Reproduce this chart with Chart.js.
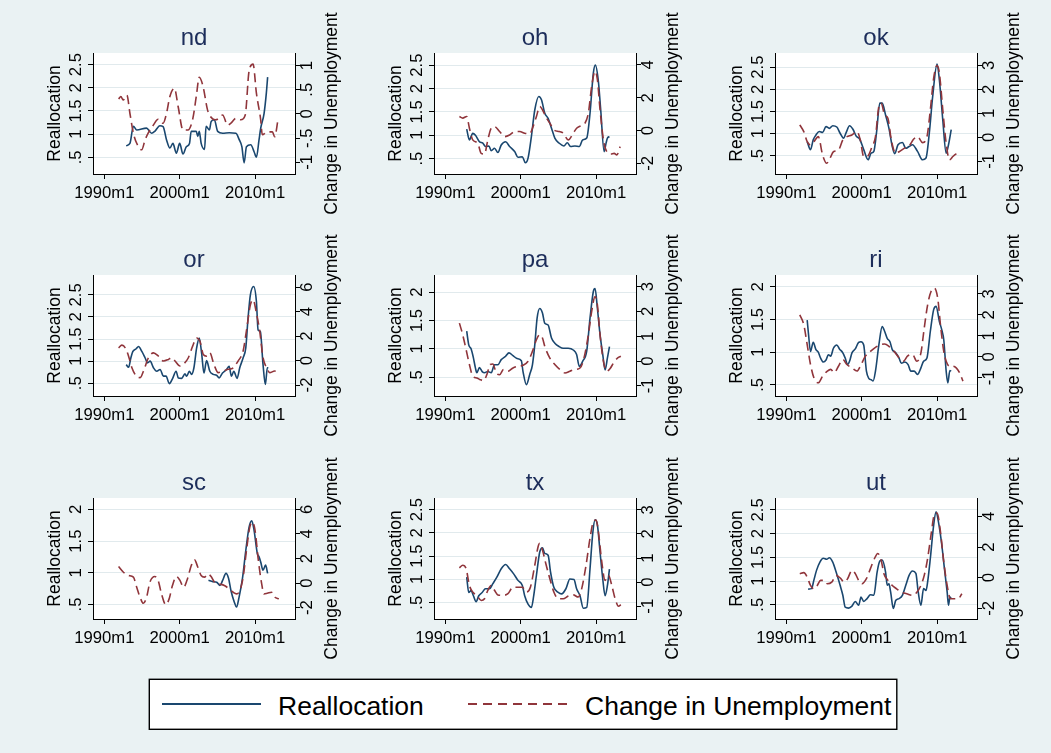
<!DOCTYPE html>
<html>
<head>
<meta charset="utf-8">
<script src="https://cdn.jsdelivr.net/npm/chart.js@4.4.1/dist/chart.umd.min.js"></script>
<style>
  html, body { margin: 0; padding: 0; background: #EAF2F3; width: 1051px; height: 753px; overflow: hidden; }
  canvas.panel { position: absolute; }
  #legend { position: absolute; left: 147px; top: 677px; }
</style>
</head>
<body>
<svg id="legend" width="753" height="56" xmlns="http://www.w3.org/2000/svg">
  <rect x="2.3" y="2.3" width="747.5" height="50" fill="#FFFFFF" stroke="#000000" stroke-width="1.4"/>
  <line x1="15" y1="27" x2="114" y2="27" stroke="#1A476F" stroke-width="2"/>
  <text x="131" y="38" font-family="Liberation Sans, Arial, Helvetica, sans-serif" font-size="26.5" fill="#000">Reallocation</text>
  <line x1="321" y1="27" x2="421" y2="27" stroke="#90353B" stroke-width="2" stroke-dasharray="9 6"/>
  <text x="438" y="38" font-family="Liberation Sans, Arial, Helvetica, sans-serif" font-size="26.5" fill="#000">Change in Unemployment</text>
</svg>
<script>
// Monthly series by state, as [year, value] pairs (year as a decimal date).
const yearTicks = [1990, 2000, 2010];

const ndReallocation = [[1992.9,0.75],[1993.4,0.80],[1993.86,1.17],[1994.3,1.09],[1995.6,1.13],[1996.27,1.02],[1996.7,1.06],[1997.37,1.18],[1997.8,1.16],[1998.25,0.88],[1998.7,0.70],[1999.1,0.80],[1999.56,0.59],[2000.0,0.80],[2000.44,0.57],[2000.88,0.73],[2001.3,0.80],[2001.53,1.06],[2002.2,1.06],[2002.4,0.95],[2002.6,1.06],[2002.85,0.80],[2003.3,0.67],[2003.5,1.17],[2003.95,1.09],[2004.17,1.27],[2004.6,1.31],[2005.04,1.06],[2005.7,1.02],[2006.58,1.03],[2007.46,1.02],[2007.9,0.88],[2008.25,0.73],[2008.55,0.38],[2008.86,0.73],[2009.43,0.77],[2009.87,0.62],[2010.18,0.50],[2010.53,0.88],[2010.75,1.13],[2011.2,1.45],[2011.5,1.89],[2011.67,2.23]];
const ndUnemployment = [[1991.9,0.31],[1992.2,0.36],[1992.5,0.29],[1993.0,0.39],[1993.4,0.01],[1993.86,-0.40],[1994.4,-0.64],[1994.96,-0.74],[1995.4,-0.54],[1995.8,-0.40],[1996.5,-0.23],[1997.15,-0.11],[1997.8,-0.19],[1998.25,0.01],[1998.7,0.36],[1999.3,0.53],[1999.8,0.15],[2000.44,-0.33],[2001.1,-0.33],[2001.75,-0.09],[2002.2,0.36],[2002.6,0.76],[2003.1,0.57],[2003.7,0.08],[2004.3,-0.09],[2004.8,-0.12],[2005.7,-0.02],[2006.36,-0.23],[2006.8,-0.19],[2007.46,-0.09],[2008.1,-0.12],[2008.7,-0.02],[2009.2,0.88],[2009.74,1.03],[2010.18,0.43],[2010.75,-0.12],[2010.96,-0.43],[2011.6,-0.37],[2012.3,-0.37],[2012.6,-0.47],[2013.07,-0.09]];

const ohReallocation = [[1992.84,1.13],[1993.2,0.90],[1993.64,1.04],[1994.0,1.00],[1994.53,0.86],[1994.98,0.83],[1995.33,0.76],[1995.78,0.77],[1996.09,0.67],[1996.53,0.72],[1996.98,0.63],[1997.42,0.79],[1998.0,0.86],[1998.53,0.76],[1999.2,0.65],[1999.64,0.53],[2000.22,0.54],[2000.62,0.41],[2000.98,0.51],[2001.42,0.97],[2001.87,1.54],[2002.4,1.83],[2002.76,1.76],[2003.2,1.47],[2003.64,1.36],[2004.09,1.15],[2004.53,0.94],[2005.11,0.83],[2005.73,0.77],[2006.18,0.84],[2006.62,0.76],[2007.2,0.77],[2007.78,0.76],[2008.22,0.90],[2008.76,0.94],[2009.2,1.47],[2009.64,2.33],[2009.91,2.50],[2010.31,2.15],[2010.62,1.54],[2011.07,0.65],[2011.33,0.83],[2011.51,0.94],[2011.78,0.97]];
const ohUnemployment = [[1991.87,0.86],[1992.31,0.76],[1992.84,0.86],[1993.2,0.14],[1993.64,-0.57],[1994.31,-0.78],[1994.76,-1.39],[1995.2,-1.43],[1995.64,-0.57],[1996.09,0.14],[1996.53,0.24],[1997.2,-0.06],[1997.87,-0.37],[1998.53,-0.27],[1999.2,-0.06],[1999.87,-0.06],[2000.53,-0.16],[2001.2,-0.20],[2001.64,0.24],[2002.09,0.86],[2002.53,1.47],[2002.89,1.27],[2003.42,0.76],[2003.87,0.45],[2004.4,0.04],[2005.11,-0.06],[2005.64,-0.16],[2006.31,-0.57],[2006.98,-0.16],[2007.42,0.14],[2007.96,0.29],[2008.53,0.45],[2008.98,1.06],[2009.42,2.69],[2009.87,3.61],[2010.18,3.10],[2010.53,1.27],[2010.98,-0.57],[2011.42,-1.29],[2011.96,-1.43],[2012.4,-1.39],[2012.76,-1.49],[2013.2,-0.98]];

const okReallocation = [[1992.77,0.82],[1993.21,0.64],[1993.57,0.86],[1993.93,0.97],[1994.38,1.05],[1994.82,1.03],[1995.27,1.16],[1995.71,1.12],[1996.16,1.18],[1996.7,1.15],[1997.14,1.01],[1997.59,0.90],[1997.95,1.03],[1998.39,1.18],[1998.84,1.10],[1999.29,0.94],[1999.73,0.88],[2000.27,0.64],[2000.85,0.41],[2001.25,0.56],[2001.61,0.60],[2001.96,1.01],[2002.41,1.69],[2002.72,1.69],[2003.17,1.42],[2003.62,1.12],[2004.06,0.71],[2004.38,0.55],[2004.82,0.75],[2005.4,0.80],[2005.85,0.67],[2006.29,0.71],[2006.74,0.75],[2007.41,0.60],[2008.08,0.41],[2008.53,0.45],[2008.97,1.01],[2009.42,1.84],[2010.0,2.57],[2010.31,2.21],[2010.76,1.31],[2011.21,0.56],[2011.52,0.75],[2011.88,1.09]];
const okUnemployment = [[1991.79,0.52],[1992.32,0.24],[1992.77,-0.18],[1993.21,-0.32],[1993.66,-0.18],[1994.24,0.03],[1994.82,-0.74],[1995.36,-1.08],[1995.8,-0.87],[1996.25,-0.60],[1996.92,-0.53],[1997.5,-0.11],[1998.04,0.03],[1998.7,0.10],[1999.38,0.24],[1999.82,-0.11],[2000.27,-0.80],[2000.71,-0.80],[2001.38,-0.39],[2001.83,0.03],[2002.28,1.29],[2002.59,1.43],[2003.04,0.94],[2003.48,0.80],[2003.93,-0.11],[2004.51,-0.67],[2004.96,-0.60],[2005.63,-0.46],[2006.29,-0.36],[2006.88,-0.08],[2007.41,0.03],[2008.08,-0.22],[2008.66,0.03],[2009.11,1.15],[2009.55,2.47],[2010.0,3.00],[2010.31,2.68],[2010.76,1.15],[2011.21,-0.25],[2011.65,-0.94],[2012.1,-0.80],[2012.54,-0.69],[2013.13,-0.60]];

const orReallocation = [[1992.91,0.92],[1993.22,0.86],[1993.52,1.07],[1993.79,1.22],[1994.23,1.28],[1994.54,1.33],[1994.98,1.22],[1995.42,1.07],[1995.73,0.96],[1996.08,1.00],[1996.52,0.85],[1996.96,0.77],[1997.4,0.81],[1997.84,0.66],[1998.19,0.66],[1998.63,0.49],[1999.07,0.61],[1999.52,0.77],[1999.82,0.62],[2000.26,0.61],[2000.7,0.71],[2000.93,0.66],[2001.28,0.77],[2001.59,0.70],[2001.89,0.85],[2002.25,1.30],[2002.6,1.52],[2002.91,1.18],[2003.22,0.73],[2003.57,1.01],[2004.0,0.77],[2004.45,0.70],[2004.89,0.68],[2005.24,0.62],[2005.68,0.73],[2006.21,0.81],[2006.56,0.88],[2006.87,0.66],[2007.18,0.77],[2007.62,0.61],[2007.97,0.85],[2008.41,1.07],[2008.77,1.30],[2009.07,1.97],[2009.38,2.50],[2009.82,2.69],[2010.18,2.35],[2010.4,1.71],[2010.7,1.67],[2011.06,0.92],[2011.37,0.47],[2011.63,0.85],[2011.76,0.85]];
const orUnemployment = [[1991.89,1.04],[1992.33,1.26],[1992.78,1.04],[1993.22,0.36],[1993.66,-0.59],[1994.23,-1.26],[1994.76,-1.40],[1995.2,-0.86],[1995.86,0.23],[1996.52,0.63],[1997.18,0.36],[1997.84,-0.04],[1998.5,0.09],[1998.94,0.23],[1999.38,-0.04],[2000.04,-0.45],[2000.48,-0.31],[2001.15,0.23],[2001.72,1.18],[2002.25,1.85],[2002.69,1.58],[2003.13,0.50],[2003.57,0.36],[2004.0,0.63],[2004.54,-0.31],[2005.11,-0.99],[2005.77,-0.86],[2006.43,-0.72],[2007.09,-0.59],[2007.75,-0.04],[2008.41,0.77],[2008.85,2.40],[2009.38,4.56],[2009.74,4.97],[2010.18,3.89],[2010.62,2.40],[2011.06,0.23],[2011.59,-0.64],[2011.94,-0.99],[2012.6,-0.86],[2013.4,-0.88]];

const paReallocation = [[1992.84,1.31],[1993.11,1.07],[1993.42,1.00],[1993.73,0.84],[1994.0,0.66],[1994.18,0.58],[1994.53,0.67],[1994.89,0.60],[1995.2,0.58],[1995.64,0.60],[1996.09,0.58],[1996.53,0.72],[1996.98,0.72],[1997.42,0.81],[1998.0,0.87],[1998.44,0.93],[1998.98,0.88],[1999.51,0.83],[2000.09,0.79],[2000.31,0.60],[2000.76,0.37],[2001.2,0.55],[2001.56,0.72],[2001.87,1.07],[2002.18,1.54],[2002.53,1.71],[2002.89,1.63],[2003.2,1.45],[2003.64,1.42],[2004.09,1.19],[2004.53,1.10],[2005.11,1.04],[2005.64,1.01],[2006.31,1.01],[2006.98,0.98],[2007.42,0.90],[2007.78,0.69],[2008.22,0.78],[2008.76,0.96],[2009.2,1.54],[2009.64,2.01],[2009.87,2.06],[2010.18,1.71],[2010.53,1.25],[2010.89,0.90],[2011.2,0.63],[2011.51,0.84],[2011.78,1.04]];
const paUnemployment = [[1991.87,1.53],[1992.31,1.06],[1992.76,0.46],[1993.2,-0.14],[1993.64,-0.61],[1994.18,-0.68],[1994.62,-0.75],[1995.07,-0.79],[1995.51,-0.55],[1995.96,-0.14],[1996.31,-0.12],[1996.76,-0.48],[1997.2,-0.55],[1997.73,-0.34],[1998.31,-0.41],[1998.98,-0.28],[1999.64,-0.21],[2000.31,-0.17],[2000.98,-0.01],[2001.56,0.39],[2002.09,0.86],[2002.53,1.06],[2002.89,0.93],[2003.2,0.59],[2003.87,0.12],[2004.53,-0.14],[2005.2,-0.34],[2005.87,-0.48],[2006.53,-0.41],[2007.2,-0.34],[2007.87,-0.28],[2008.4,0.12],[2008.98,1.06],[2009.42,2.00],[2009.87,2.60],[2010.18,2.26],[2010.53,1.06],[2010.98,-0.01],[2011.42,-0.41],[2011.87,-0.30],[2012.31,-0.08],[2012.84,0.12],[2013.29,0.19]];

const riReallocation = [[1992.77,1.49],[1992.95,1.27],[1993.21,1.01],[1993.57,1.15],[1993.93,1.04],[1994.24,1.00],[1994.55,0.91],[1994.91,0.85],[1995.27,0.88],[1995.58,0.96],[1995.89,0.94],[1996.25,1.06],[1996.7,1.11],[1997.05,1.05],[1997.5,0.99],[1997.81,0.91],[1998.13,0.81],[1998.39,0.86],[1998.71,0.99],[1999.15,1.05],[1999.6,1.15],[1999.91,1.16],[2000.27,1.11],[2000.63,0.71],[2000.94,0.60],[2001.25,0.58],[2001.52,0.56],[2001.83,0.71],[2002.28,1.11],[2002.72,1.39],[2003.04,1.32],[2003.39,1.21],[2003.75,1.16],[2004.06,1.04],[2004.51,0.99],[2004.96,0.91],[2005.27,0.83],[2005.71,0.85],[2006.16,0.81],[2006.52,0.71],[2006.96,0.71],[2007.41,0.66],[2007.86,0.76],[2008.21,0.86],[2008.66,0.91],[2009.11,1.32],[2009.55,1.65],[2009.87,1.70],[2010.31,1.47],[2010.63,1.34],[2010.89,1.19],[2011.21,0.71],[2011.43,0.53],[2011.7,0.72],[2011.88,0.71]];
const riUnemployment = [[1991.79,2.00],[1992.32,1.53],[1992.77,0.58],[1993.21,-0.37],[1993.66,-1.00],[1994.24,-1.24],[1994.82,-0.92],[1995.45,-0.68],[1995.89,-0.60],[1996.34,-0.76],[1996.92,-0.45],[1997.5,-0.13],[1998.04,-0.37],[1998.71,-0.53],[1999.38,-0.68],[1999.82,-0.45],[2000.49,0.03],[2001.16,0.26],[2001.83,0.45],[2002.5,0.58],[2003.04,0.61],[2003.62,0.50],[2004.29,0.26],[2004.96,-0.05],[2005.54,-0.21],[2006.07,0.03],[2006.74,0.11],[2007.32,-0.21],[2007.86,0.19],[2008.3,1.37],[2008.75,2.48],[2009.2,3.11],[2009.64,3.27],[2010.09,2.79],[2010.45,1.53],[2010.89,0.26],[2011.21,-0.21],[2011.65,-0.45],[2012.1,-0.45],[2012.54,-0.53],[2012.99,-0.76],[2013.44,-1.16]];

const scReallocation = [[2003.82,0.88],[2004.39,0.86],[2004.91,0.85],[2005.35,0.80],[2005.7,0.88],[2006.14,0.99],[2006.49,0.91],[2006.8,0.72],[2007.24,0.54],[2007.54,0.46],[2007.89,0.62],[2008.33,0.91],[2008.77,1.35],[2009.21,1.72],[2009.56,1.82],[2009.87,1.67],[2010.31,1.30],[2010.53,1.25],[2010.75,1.17],[2011.05,1.04],[2011.4,1.12],[2011.67,0.99]];
const scUnemployment = [[1991.89,1.35],[1992.54,0.88],[1993.2,0.61],[1993.86,0.48],[1994.3,-0.34],[1994.74,-1.16],[1995.18,-1.65],[1995.61,-1.16],[1996.05,0.07],[1996.71,0.53],[1997.15,0.20],[1997.59,-0.88],[1998.16,-1.76],[1998.6,-1.29],[1999.04,-0.20],[1999.56,0.53],[2000.0,0.26],[2000.53,-0.34],[2000.96,0.20],[2001.54,1.43],[2001.97,1.89],[2002.41,1.29],[2002.85,0.61],[2003.29,0.48],[2003.73,0.75],[2004.17,0.53],[2004.61,0.07],[2005.26,-0.07],[2005.92,-0.20],[2006.58,-0.48],[2007.1,-0.75],[2007.54,-0.88],[2007.98,-0.61],[2008.42,0.48],[2008.86,2.65],[2009.3,4.56],[2009.65,4.97],[2010.0,4.29],[2010.44,1.84],[2010.88,-0.07],[2011.18,-0.88],[2011.62,-0.83],[2012.19,-0.75],[2012.63,-1.16],[2013.16,-1.29]];

const txReallocation = [[1992.84,1.05],[1993.11,0.72],[1993.42,0.76],[1993.73,0.65],[1994.09,0.52],[1994.44,0.65],[1994.89,0.72],[1995.33,0.80],[1995.87,0.80],[1996.31,0.91],[1996.84,1.05],[1997.42,1.23],[1998.0,1.32],[1998.53,1.23],[1999.07,1.12],[1999.64,0.98],[2000.22,0.87],[2000.53,0.65],[2000.98,0.47],[2001.42,0.40],[2001.73,0.65],[2002.09,1.09],[2002.53,1.59],[2002.89,1.68],[2003.2,1.56],[2003.64,1.52],[2003.96,1.16],[2004.4,0.83],[2004.98,0.72],[2005.42,0.69],[2006.0,0.80],[2006.53,1.01],[2007.07,1.00],[2007.42,0.80],[2007.87,0.65],[2008.31,0.38],[2008.76,0.40],[2009.2,1.23],[2009.56,1.99],[2009.87,2.28],[2010.18,2.17],[2010.53,1.59],[2010.89,1.01],[2011.2,0.65],[2011.51,0.87],[2011.78,1.22]];
const txUnemployment = [[1991.87,0.59],[1992.31,0.70],[1992.76,0.56],[1993.2,-0.14],[1993.64,-0.41],[1994.18,-0.55],[1994.76,-0.76],[1995.2,-0.69],[1995.64,-0.34],[1996.09,-0.14],[1996.53,-0.34],[1996.98,-0.53],[1997.64,-0.55],[1998.31,-0.48],[1998.98,-0.21],[1999.64,-0.21],[2000.22,-0.21],[2000.76,-0.41],[2001.29,-0.21],[2001.87,0.70],[2002.31,1.47],[2002.53,1.61],[2002.89,1.33],[2003.33,0.77],[2003.87,0.14],[2004.4,-0.41],[2004.98,-0.69],[2005.64,-0.69],[2006.31,-0.58],[2006.98,-0.53],[2007.64,-0.62],[2008.09,-0.28],[2008.67,0.70],[2009.2,1.82],[2009.64,2.51],[2010.0,2.58],[2010.31,2.09],[2010.76,0.84],[2011.2,0.07],[2011.64,0.28],[2012.09,-0.14],[2012.53,-0.69],[2012.98,-1.00],[2013.29,-0.94]];

const utReallocation = [[1992.9,0.83],[1993.35,0.84],[1993.66,1.02],[1994.02,1.23],[1994.46,1.40],[1994.91,1.48],[1995.36,1.46],[1995.71,1.49],[1996.16,1.40],[1996.61,1.19],[1997.14,0.91],[1997.5,0.70],[1997.81,0.45],[1998.26,0.43],[1998.71,0.47],[1999.15,0.57],[1999.6,0.49],[1999.91,0.66],[2000.27,0.57],[2000.71,0.63],[2001.16,0.71],[2001.61,0.70],[2002.05,1.19],[2002.41,1.42],[2002.72,1.44],[2003.17,1.19],[2003.39,0.91],[2003.62,0.94],[2003.84,0.77],[2004.2,0.42],[2004.51,0.59],[2004.96,0.63],[2005.4,0.70],[2005.85,0.91],[2006.29,1.12],[2006.74,1.21],[2007.19,1.16],[2007.5,0.77],[2007.86,0.49],[2008.21,0.84],[2008.53,0.80],[2008.75,0.98],[2009.11,1.48],[2009.55,2.18],[2009.87,2.46],[2010.18,2.25],[2010.63,1.76],[2010.98,1.26],[2011.34,0.77],[2011.52,0.49],[2011.7,0.66],[2011.88,0.63]];
const utUnemployment = [[1991.79,0.26],[1992.32,0.33],[1992.77,0.04],[1993.21,-0.51],[1993.66,-0.73],[1994.11,-0.51],[1994.55,-0.18],[1995.0,-0.18],[1995.45,-0.40],[1996.03,-0.29],[1996.61,0.15],[1997.14,-0.02],[1997.68,-0.29],[1998.13,-0.07],[1998.71,0.48],[1999.15,0.26],[1999.6,-0.18],[2000.04,-0.40],[2000.63,-0.07],[2001.16,0.59],[2001.7,1.25],[2002.14,1.58],[2002.59,1.14],[2002.95,0.26],[2003.48,-0.18],[2004.06,-0.51],[2004.64,-0.73],[2005.27,-0.95],[2005.98,-1.05],[2006.74,-1.16],[2007.32,-0.95],[2007.86,-0.51],[2008.3,0.15],[2008.75,1.25],[2009.2,2.79],[2009.64,4.11],[2010.0,4.22],[2010.45,3.01],[2010.89,1.03],[2011.34,-0.51],[2011.79,-1.38],[2012.32,-1.38],[2012.77,-1.38],[2013.3,-1.05]];

// Axis tick values
const leftTicksTo25 = [0.5, 1, 1.5, 2, 2.5];
const leftTicksTo2 = [0.5, 1, 1.5, 2];
const rightTicksHalf = [-1, -0.5, 0, 0.5, 1];
const rightTicksOne = [-1, 0, 1, 2, 3];
const rightTicksTwoTo4 = [-2, 0, 2, 4];
const rightTicksTwoTo6 = [-2, 0, 2, 4, 6];

const FONT = '"Liberation Sans", Arial, Helvetica, sans-serif';
const BLUE = '#1A476F';
const RED = '#90353B';

const panels = [
  { name: 'nd', real: ndReallocation, unemp: ndUnemployment, lt: leftTicksTo25, rt: rightTicksHalf,   yl: [0.14, 2.75], yr: [-1.24, 1.26] },
  { name: 'oh', real: ohReallocation, unemp: ohUnemployment, lt: leftTicksTo25, rt: rightTicksTwoTo4, yl: [0.17, 2.76], yr: [-2.65, 4.73] },
  { name: 'ok', real: okReallocation, unemp: okUnemployment, lt: leftTicksTo25, rt: rightTicksOne,    yl: [0.09, 2.82], yr: [-1.53, 3.52] },
  { name: 'or', real: orReallocation, unemp: orUnemployment, lt: leftTicksTo25, rt: rightTicksTwoTo6, yl: [0.21, 2.95], yr: [-2.9, 7.0] },
  { name: 'pa', real: paReallocation, unemp: paUnemployment, lt: leftTicksTo2,  rt: rightTicksOne,    yl: [0.17, 2.30], yr: [-1.41, 3.47] },
  { name: 'ri', real: riReallocation, unemp: riUnemployment, lt: leftTicksTo2,  rt: rightTicksOne,    yl: [0.33, 2.18], yr: [-1.87, 3.9] },
  { name: 'sc', real: scReallocation, unemp: scUnemployment, lt: leftTicksTo2,  rt: rightTicksTwoTo6, yl: [0.27, 2.18], yr: [-2.93, 6.93] },
  { name: 'tx', real: txReallocation, unemp: txUnemployment, lt: leftTicksTo25, rt: rightTicksOne,    yl: [0.15, 2.75], yr: [-1.53, 3.49] },
  { name: 'ut', real: utReallocation, unemp: utUnemployment, lt: leftTicksTo25, rt: rightTicksTwoTo4, yl: [0.20, 2.75], yr: [-2.7, 5.2] }
];

// Grid of small multiples
const colLeft = [30, 371, 712];
const rowTop = [0, 222, 445];
const CW = 325, CH = 222;
const AXIS_L = 63, AXIS_R = 60, AXIS_B = 48, PAD_T = 53;

// Stata-style number labels: drop the leading zero (".5", "-.5")
function fmt(v) {
  const s = String(+(+v).toFixed(2));
  return s.replace(/^(-?)0\./, '$1.');
}

// White plot region plus rotated axis labels and the panel title
const stataText = {
  id: 'stataText',
  beforeDraw(chart) {
    const { ctx, chartArea: a } = chart;
    ctx.save();
    ctx.fillStyle = '#FFFFFF';
    ctx.fillRect(a.left, a.top, a.right - a.left, a.bottom - a.top);
    ctx.restore();
  },
  afterDraw(chart, args, opts) {
    const { ctx, chartArea: a, scales } = chart;
    const rot = (txt, x, y, font) => {
      ctx.save();
      ctx.translate(x, y);
      ctx.rotate(-Math.PI / 2);
      ctx.font = font;
      ctx.fillStyle = '#000';
      ctx.textAlign = 'center';
      ctx.textBaseline = 'alphabetic';
      ctx.fillText(txt, 0, 0);
      ctx.restore();
    };
    const tickFont = '16.7px ' + FONT;
    const titleFont = '17.5px ' + FONT;
    scales.y.ticks.forEach(t => rot(fmt(t.value), a.left - 12.5, scales.y.getPixelForValue(t.value), tickFont));
    scales.y1.ticks.forEach(t => rot(fmt(t.value), a.right + 17, scales.y1.getPixelForValue(t.value), tickFont));
    const midY = (a.top + a.bottom) / 2;
    rot('Reallocation', a.left - 33.5, midY, titleFont);
    rot('Change in Unemployment', a.right + 42, midY, titleFont);
    ctx.save();
    ctx.font = '24px ' + FONT;
    ctx.fillStyle = '#1C2D5A';
    ctx.textAlign = 'center';
    ctx.textBaseline = 'alphabetic';
    ctx.fillText(opts.title, (a.left + a.right) / 2, a.top - 8);
    ctx.restore();
  }
};

const toPoints = pairs => pairs.map(([x, y]) => ({ x, y }));

panels.forEach((p, i) => {
  const cv = document.createElement('canvas');
  cv.className = 'panel';
  cv.width = CW; cv.height = CH;
  cv.style.left = colLeft[i % 3] + 'px';
  cv.style.top = rowTop[Math.floor(i / 3)] + 'px';
  document.body.appendChild(cv);

  new Chart(cv.getContext('2d'), {
    type: 'line',
    data: {
      datasets: [
        { label: 'Reallocation', data: toPoints(p.real), yAxisID: 'y', borderColor: BLUE, borderWidth: 1.6,
          pointRadius: 0, fill: false, cubicInterpolationMode: 'monotone', order: 2 },
        { label: 'Change in Unemployment', data: toPoints(p.unemp), yAxisID: 'y1', borderColor: RED, borderWidth: 1.6,
          borderDash: [9, 5], pointRadius: 0, fill: false, cubicInterpolationMode: 'monotone', order: 1 }
      ]
    },
    options: {
      responsive: false,
      animation: false,
      devicePixelRatio: 1,
      layout: { padding: { top: PAD_T, left: 0, right: 0, bottom: 0 } },
      plugins: {
        legend: { display: false },
        tooltip: { enabled: false },
        stataText: { title: p.name }
      },
      scales: {
        x: {
          type: 'linear', min: 1988.5, max: 2015.3,
          afterBuildTicks: s => { s.ticks = yearTicks.map(v => ({ value: v })); },
          afterFit: s => { s.height = AXIS_B; },
          ticks: { callback: v => v + 'm1', font: { family: FONT, size: 16.7 }, color: '#000',
                   padding: 4, maxRotation: 0, minRotation: 0, autoSkip: false },
          grid: { drawOnChartArea: false, drawTicks: true, tickLength: 5, tickColor: '#000', tickWidth: 1 },
          border: { display: true, color: '#000', width: 1 }
        },
        y: {
          position: 'left', min: p.yl[0], max: p.yl[1],
          afterBuildTicks: s => { s.ticks = p.lt.map(v => ({ value: v })); },
          afterFit: s => { s.width = AXIS_L; },
          ticks: { display: false },
          grid: { color: '#E1EAED', lineWidth: 1, drawTicks: true, tickLength: 5, tickColor: '#000', tickWidth: 1 },
          border: { display: true, color: '#000', width: 1 }
        },
        y1: {
          position: 'right', min: p.yr[0], max: p.yr[1],
          afterBuildTicks: s => { s.ticks = p.rt.map(v => ({ value: v })); },
          afterFit: s => { s.width = AXIS_R; },
          ticks: { display: false },
          grid: { drawOnChartArea: false, drawTicks: true, tickLength: 5, tickColor: '#000', tickWidth: 1 },
          border: { display: true, color: '#000', width: 1 }
        }
      }
    },
    plugins: [stataText]
  });
});
</script>
</body>
</html>
